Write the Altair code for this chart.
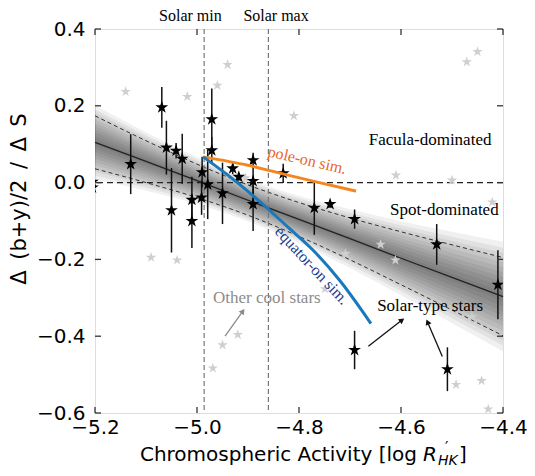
import altair as alt
import pandas as pd

# ---------------- data ----------------
X_TICKS = [-5.2, -5.0, -4.8, -4.6, -4.4]
Y_TICKS = [-0.6, -0.4, -0.2, 0.0, 0.2, 0.4]

# solar-type stars (black) : activity, delta, error
SOLAR_X = [-5.205, -5.205, -5.130, -5.069, -5.060, -5.041, -5.029, -5.050, -5.010, -5.010,
           -4.971, -4.971, -4.990, -4.979, -4.991, -4.950, -4.930, -4.918, -4.890, -4.890,
           -4.890, -4.831, -4.770, -4.739, -4.691, -4.530, -4.410, -4.691, -4.509]
SOLAR_Y = [0.002, -0.013, 0.048, 0.196, 0.091, 0.083, 0.062, -0.072, -0.045, -0.100,
           0.165, 0.084, 0.027, -0.005, -0.039, -0.028, 0.037, 0.015, 0.058, 0.004,
           -0.056, 0.024, -0.066, -0.056, -0.095, -0.161, -0.266, -0.436, -0.486]
SOLAR_ERR = [0.0, 0.0, 0.078, 0.053, 0.070, 0.020, 0.065, 0.110, 0.060, 0.070,
             0.080, 0.035, 0.040, 0.090, 0.045, 0.080, 0.015, 0.010, 0.020, 0.035,
             0.070, 0.025, 0.070, 0.010, 0.025, 0.053, 0.090, 0.050, 0.057]

# other cool stars (grey)
OTHER_X = [-5.140, -5.019, -4.940, -4.960, -4.810, -4.471, -4.450, -4.610, -4.500, -4.421,
           -5.090, -5.039, -4.920, -4.950, -4.969, -4.640, -4.611, -4.709, -4.749, -4.492,
           -4.442, -4.429, -4.461, -4.905]
OTHER_Y = [0.237, 0.224, 0.307, 0.253, 0.174, 0.314, 0.341, 0.019, 0.006, -0.051,
           -0.195, -0.202, -0.396, -0.423, -0.483, -0.161, -0.202, -0.185, -0.277, -0.526,
           -0.516, -0.590, -0.350, 0.012]

# linear fit and its confidence band
BAND_X = [-5.2, -5.1, -5.0, -4.9, -4.8, -4.7, -4.6, -4.5, -4.4]
FIT_Y = [0.105, 0.055, 0.005, -0.046, -0.096, -0.146, -0.197, -0.247, -0.297]
BAND_UPPER = [0.174, 0.109, 0.048, -0.006, -0.052, -0.092, -0.128, -0.162, -0.195]
BAND_LOWER = [0.036, 0.000, -0.039, -0.085, -0.140, -0.201, -0.266, -0.332, -0.399]

# simulations
POLE_X = [-4.988, -4.90, -4.83, -4.76, -4.688]
POLE_Y = [0.067, 0.045, 0.022, 0.000, -0.022]
EQ_X = [-4.988, -4.94, -4.884, -4.82, -4.768, -4.72, -4.659]
EQ_Y = [0.067, 0.020, -0.041, -0.118, -0.182, -0.255, -0.367]

SOLAR_MIN, SOLAR_MAX = -4.986, -4.860

# arrows (tail -> head) and head angles
ARR_X1 = [-4.945, -4.664, -4.519]
ARR_Y1 = [-0.400, -0.426, -0.453]
ARR_X2 = [-4.910, -4.598, -4.548]
ARR_Y2 = [-0.335, -0.358, -0.363]
ARR_ANG = [36, 53, 336]
ARR_COL = ["#8a8a8a", "#111111", "#111111"]

STAR = ("M0,-1L0.225,-0.309L0.951,-0.309L0.363,0.118L0.588,0.809L0,0.382"
        "L-0.588,0.809L-0.363,0.118L-0.951,-0.309L-0.225,-0.309Z")

W, H = 408, 384

# ---------------- scales / axes ----------------
xs = alt.Scale(domain=[-5.2, -4.4], nice=False, zero=False)
ys = alt.Scale(domain=[-0.6, 0.4], nice=False, zero=False)
x_axis = alt.Axis(values=X_TICKS, format=".1f", title=None, ticks=False, domain=False,
                  grid=False, labelFontSize=20, labelFont="DejaVu Sans", labelColor="#000",
                  labelPadding=4, labelFlush=False, labelOverlap=False)
y_axis = alt.Axis(values=Y_TICKS, format=".1f", title=None, ticks=False, domain=False,
                  grid=False, labelFontSize=20, labelFont="DejaVu Sans", labelColor="#000",
                  labelPadding=10, labelFlush=False, labelOverlap=False)


def X(f="x"):
    return alt.X(f"{f}:Q", scale=xs, axis=x_axis)


def Y(f="y"):
    return alt.Y(f"{f}:Q", scale=ys, axis=y_axis)


layers = []

# gradient band (stacked translucent layers around the fit)
band = pd.DataFrame({"x": BAND_X, "c": FIT_Y, "u": BAND_UPPER, "l": BAND_LOWER})
band["h"] = (band["u"] - band["l"]) / 2
for f in [0.12, 0.25, 0.38, 0.5, 0.62, 0.75, 0.88, 1.0, 1.12, 1.25, 1.4]:
    d = pd.DataFrame({"x": band["x"], "lo": band["c"] - f * band["h"], "hi": band["c"] + f * band["h"]})
    layers.append(alt.Chart(d).mark_area(color="#000", opacity=0.06, interpolate="monotone", clip=True)
                  .encode(x=X(), y=Y("lo"), y2=alt.Y2("hi")))

# dashed band edges + fit line
for col in ["u", "l"]:
    layers.append(alt.Chart(band).mark_line(color="#333", strokeWidth=1, strokeDash=[4, 3],
                                            interpolate="monotone")
                  .encode(x=X(), y=Y(col)))
layers.append(alt.Chart(band).mark_line(color="#222", strokeWidth=1.3).encode(x=X(), y=Y("c")))

# zero line and solar lines
layers.append(alt.Chart(pd.DataFrame({"y": [0.0]})).mark_rule(color="#222", strokeWidth=1.3,
                                                             strokeDash=[6, 4]).encode(y=Y()))
layers.append(alt.Chart(pd.DataFrame({"x": [SOLAR_MIN, SOLAR_MAX]})).mark_rule(
    color="#777", strokeWidth=1.2, strokeDash=[5, 3]).encode(x=X()))

# grey stars
other = pd.DataFrame({"x": OTHER_X, "y": OTHER_Y})
layers.append(alt.Chart(other).mark_point(shape=STAR, filled=True, size=120, color="#cfcfcf",
                                          opacity=1).encode(x=X(), y=Y()))

# error bars and black stars
solar = pd.DataFrame({"x": SOLAR_X, "y": SOLAR_Y, "e": SOLAR_ERR})
solar["lo"] = solar["y"] - solar["e"]
solar["hi"] = solar["y"] + solar["e"]
layers.append(alt.Chart(solar).mark_rule(color="#111", strokeWidth=1.5, clip=True)
              .encode(x=X(), y=Y("lo"), y2=alt.Y2("hi")))
layers.append(alt.Chart(solar).mark_point(shape=STAR, filled=True, size=180, color="#000",
                                          opacity=1, clip=True).encode(x=X(), y=Y()))

# simulation curves
layers.append(alt.Chart(pd.DataFrame({"x": POLE_X, "y": POLE_Y})).mark_line(
    color="#f5861f", strokeWidth=3, interpolate="monotone").encode(x=X(), y=Y()))
layers.append(alt.Chart(pd.DataFrame({"x": EQ_X, "y": EQ_Y})).mark_line(
    color="#1a78bd", strokeWidth=3, interpolate="monotone").encode(x=X(), y=Y()))

# arrows
arr = pd.DataFrame({"x": ARR_X1, "y": ARR_Y1, "x2": ARR_X2, "y2": ARR_Y2, "a": ARR_ANG, "c": ARR_COL})
layers.append(alt.Chart(arr).mark_rule(strokeWidth=1.3).encode(
    x=X(), y=Y(), x2=alt.X2("x2"), y2=alt.Y2("y2"), color=alt.Color("c:N", scale=None)))
layers.append(alt.Chart(arr).mark_point(shape="triangle-up", filled=True, size=40, opacity=1).encode(
    x=X("x2"), y=Y("y2"), angle=alt.Angle("a:Q", scale=None), color=alt.Color("c:N", scale=None)))


# annotations
def label(text, x, y, size=17, color="#000", angle=0, font="Liberation Serif", baseline="middle"):
    d = pd.DataFrame({"x": [x], "y": [y], "t": [text]})
    kw = dict(font=font, fontSize=size, color=color, align="center", baseline=baseline)
    if angle:
        kw["angle"] = angle
    return alt.Chart(d).mark_text(**kw).encode(x=X(), y=Y(), text="t:N")


layers.append(label("Solar min", -5.013, 0.421, size=16, baseline="alphabetic"))
layers.append(label("Solar max", -4.845, 0.421, size=16, baseline="alphabetic"))
layers.append(label("Facula-dominated", -4.543, 0.110))
layers.append(label("Spot-dominated", -4.515, -0.071))
layers.append(label("Solar-type stars", -4.543, -0.322))
layers.append(label("Other cool stars", -4.863, -0.301, color="#8c8c8c"))
layers.append(label("pole-on sim.", -4.784, 0.058, size=16, color="#e8642c", angle=13))
layers.append(label("equator-on sim.", -4.775, -0.216, size=16, color="#1d3c8f", angle=47))

# inward ticks on all four sides
xt = pd.DataFrame({"x": X_TICKS})
yt = pd.DataFrame({"y": Y_TICKS})
tc = dict(color="#333", strokeWidth=1.3)
layers.append(alt.Chart(xt).mark_rule(**tc).encode(x=X(), y=alt.value(H), y2=alt.value(H - 6)))
layers.append(alt.Chart(xt).mark_rule(**tc).encode(x=X(), y=alt.value(0), y2=alt.value(6)))
layers.append(alt.Chart(yt).mark_rule(**tc).encode(y=Y(), x=alt.value(0), x2=alt.value(6)))
layers.append(alt.Chart(yt).mark_rule(**tc).encode(y=Y(), x=alt.value(W), x2=alt.value(W - 6)))


# axis titles as text pieces
def ptext(text, px, py, size=20, align="left", baseline="alphabetic", angle=0, style="normal"):
    d = pd.DataFrame({"t": [text]})
    kw = dict(font="DejaVu Sans", fontSize=size, color="#000", align=align, baseline=baseline,
              fontStyle=style)
    if angle:
        kw["angle"] = angle
    return alt.Chart(d).mark_text(**kw).encode(x=alt.value(px), y=alt.value(py), text="t:N")


TB = 432  # title baseline in plot coordinates
layers.append(ptext("Chromospheric Activity [log", 322, TB, align="right"))
layers.append(ptext("R", 328, TB, style="italic"))
layers.append(ptext("\u2032", 350, TB - 8, size=15))
layers.append(ptext("HK", 343, TB + 4, size=14, style="italic"))
layers.append(ptext("]", 364, TB))
layers.append(ptext("\u0394\u2002(b+y)/2\u2002/\u2002\u0394\u2002S", -75, 170, size=21,
                    align="center", baseline="middle", angle=270))

chart = alt.layer(*layers).properties(
    width=W, height=H,
    padding={"left": 87, "top": 21, "right": 24, "bottom": 55},
    autosize="none",
).configure_view(stroke="#8a8a8a", strokeWidth=1.5).configure(font="DejaVu Sans")

chart.save("out.html", embed_options={"renderer": "svg", "actions": False})
